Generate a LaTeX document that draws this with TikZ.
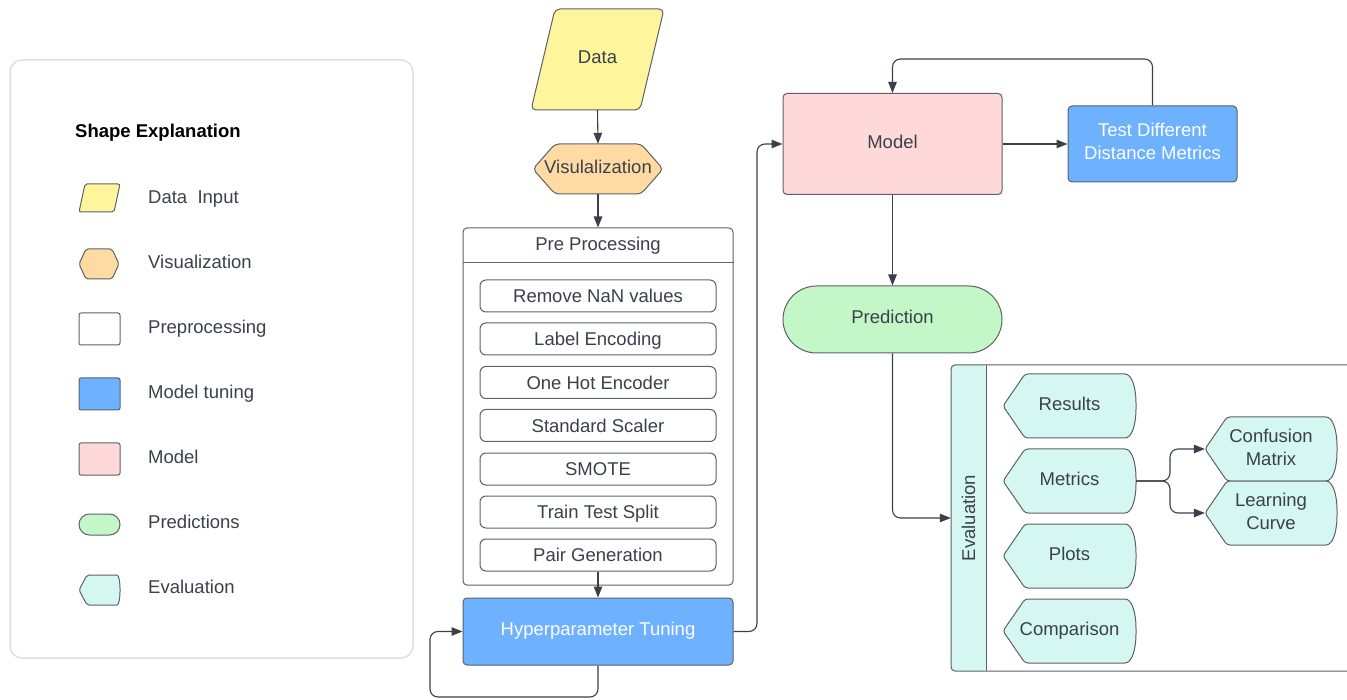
\documentclass[tikz,border=0pt]{standalone}
\usepackage{fontspec}
\setmainfont{Liberation Sans}
\usetikzlibrary{arrows.meta,calc}
\definecolor{ink}{HTML}{3A414A}
\definecolor{edge}{HTML}{5E6166}
\definecolor{dataY}{HTML}{FFF59D}
\definecolor{vizO}{HTML}{FFDBA3}
\definecolor{tuneB}{HTML}{6DB1FF}
\definecolor{modelP}{HTML}{FFD9D9}
\definecolor{predG}{HTML}{C3F7C8}
\definecolor{evalC}{HTML}{D4F7F1}
\definecolor{legendEdge}{HTML}{DCDEE0}

% display shape (pointed left, bulging right) with a named text node on top
% #1 name, #2 x, #3 y, #4 half width, #5 text
\newcommand\dispbox[5]{%
  \draw[shp, fill=evalC, rounded corners=3]
    (#2-#4,#3) -- (#2-#4+22,#3-32) -- (#2+#4-14,#3-32)
    .. controls (#2+#4-4,#3-32) and (#2+#4,#3-18) .. (#2+#4,#3)
    .. controls (#2+#4,#3+18) and (#2+#4-4,#3+32) .. (#2+#4-14,#3+32)
    -- (#2-#4+22,#3+32) -- cycle;
  \node[bare, text depth=4pt, minimum width=2*#4, minimum height=64] (#1) at (#2,#3) {#5};}

\begin{document}
\begin{tikzpicture}[x=1pt,y=-1pt,
  font=\fontsize{18.5}{23}\selectfont, text=ink,
  shp/.style={draw=edge, line width=1pt},
  one/.style={text height=13.2pt, text depth=4.5pt},
  multi/.style={text depth=5pt},
  blk/.style={shp, rounded corners=4, inner sep=0, align=center},
  subbox/.style={blk, text height=13.2pt, text depth=0pt, fill=white, minimum width=236, minimum height=32, rounded corners=6},
  bare/.style={inner sep=0, align=center},
  lbl/.style={inner sep=0, text height=13.2pt, text depth=0pt, anchor=west},
  conn/.style={draw=ink, line width=1.1pt, rounded corners=8},
  arr/.style={conn, -{Triangle[length=11pt,width=8.5pt]}},
]
\useasboundingbox (0,0) rectangle (1347,700);

% ---------- legend ----------
\draw[draw=legendEdge, line width=1.5pt, rounded corners=12] (10,60) rectangle (413,658);
\node[lbl, text=black, font=\fontsize{18.5}{23}\selectfont\bfseries] (legtitle) at (75,131) {Shape Explanation};

\draw[shp, fill=dataY, rounded corners=2] (85,184) -- (120,184) -- (114,212) -- (79,212) -- cycle;
\node[lbl] (legdata) at (148,197) {Data\ \ Input};

\draw[shp, fill=vizO, rounded corners=2] (79,264) -- (86,249) -- (112,249) -- (119,264) -- (112,279) -- (86,279) -- cycle;
\node[lbl] (legviz) at (148,262) {Visualization};

\draw[shp, fill=white, rounded corners=2] (79,313) rectangle (120,345);
\node[lbl] (legpre) at (148,327) {Preprocessing};

\draw[shp, fill=tuneB, rounded corners=2] (79,378) rectangle (120,410);
\node[lbl] (legtune) at (148,392) {Model tuning};

\draw[shp, fill=modelP, rounded corners=2] (79,443) rectangle (120,475);
\node[lbl] (legmodel) at (148,457) {Model};

\draw[shp, fill=predG, rounded corners=10.5] (79,514) rectangle (120,535);
\node[lbl] (legpred) at (148,522) {Predictions};

\draw[shp, fill=evalC, rounded corners=2]
  (79,590) -- (87,575) -- (115,575) .. controls (119,575) and (120,583) .. (120,590)
  .. controls (120,597) and (119,605) .. (115,605) -- (87,605) -- cycle;
\node[lbl] (legeval) at (148,587) {Evaluation};

% ---------- data and visualisation ----------
\draw[shp, fill=dataY, rounded corners=5] (555,9) -- (664,9) -- (640,110) -- (531,110) -- cycle;
\node[bare, one, minimum width=133, minimum height=101] (data) at (597.5,59.5) {Data};

\draw[shp, fill=vizO, rounded corners=4] (533,169) -- (555,144) -- (641,144) -- (663,169) -- (641,194) -- (555,194) -- cycle;
\node[bare, one, minimum width=130, minimum height=50] (viz) at (598,169) {Visulalization};

% ---------- preprocessing container ----------
\node[blk, fill=white, minimum width=270, minimum height=357] (pre) at (598,406.5) {};
\draw[shp] ($(pre.north west)+(0,35)$) -- ($(pre.north east)+(0,35)$);
\node[bare, text height=13.2pt, text depth=0pt] (pretitle) at (598,243.5) {Pre Processing};

\node[subbox] (s1) at (598,296) {Remove NaN values};
\node[subbox] (s2) at (598,339) {Label Encoding};
\node[subbox] (s3) at (598,382.5) {One Hot Encoder};
\node[subbox] (s4) at (598,425.5) {Standard Scaler};
\node[subbox] (s5) at (598,469) {SMOTE};
\node[subbox] (s6) at (598,512) {Train Test Split};
\node[subbox] (s7) at (598,555) {Pair Generation};

% ---------- tuning, model, prediction ----------
\node[blk, one, fill=tuneB, text=white, minimum width=270, minimum height=67] (hyper) at (598,631.5) {Hyperparameter Tuning};
\node[blk, one, fill=modelP, minimum width=219, minimum height=101] (model) at (892.5,144) {Model};
\node[blk, multi, fill=tuneB, text=white, minimum width=169, minimum height=76] (test) at (1152.5,144) {Test Different\\Distance Metrics};
\node[blk, one, fill=predG, rounded corners=33.5, minimum width=219, minimum height=67] (pred) at (892.5,319.5) {Prediction};

% ---------- evaluation container ----------
\fill[evalC, rounded corners=3] (986,365) -- (951,365) -- (951,671) -- (986,671) -- cycle;
\draw[shp, rounded corners=4] (1360,365) -- (951,365) -- (951,671) -- (1360,671);
\draw[shp] (986,365) -- (986,671);
\node[bare, minimum width=35, minimum height=306] (strip) at (968.5,518) {\rotatebox{90}{Evaluation}};

\dispbox{res}{1069.5}{406}{66.5}{Results}
\dispbox{metrics}{1069.5}{481}{66.5}{Metrics}
\dispbox{plots}{1069.5}{556}{66.5}{Plots}
\dispbox{comp}{1069.5}{631}{66.5}{Comparison}
\dispbox{conf}{1271}{449}{66}{Confusion\\Matrix}
\dispbox{learn}{1271}{513}{66}{Learning\\Curve}

% ---------- connectors ----------
\coordinate (hl) at (430,697);
\coordinate (hm) at (757,144);
\coordinate (tl) at (892.5,59);
\coordinate (mb) at (1170,481);

\draw[arr] (data.south) -- (viz.north);
\draw[arr] (viz.south) -- (pre.north);
\draw[arr] (s7.south) -- (hyper.north);
\draw[arr] (hyper.south) |- (hl) |- (hyper.west);
\draw[arr] (hyper.east) -| (hm) -- (model.west);
\draw[arr] (model.east) -- (test.west);
\draw[arr] (test.north) |- (tl) -- (model.north);
\draw[arr] (model.south) -- (pred.north);
\draw[arr] (pred.south) |- (strip.west);
\draw[arr] (metrics.east) -- (mb) |- (conf.west);
\draw[arr] (metrics.east) -- (mb) |- (learn.west);
\end{tikzpicture}
\end{document}
